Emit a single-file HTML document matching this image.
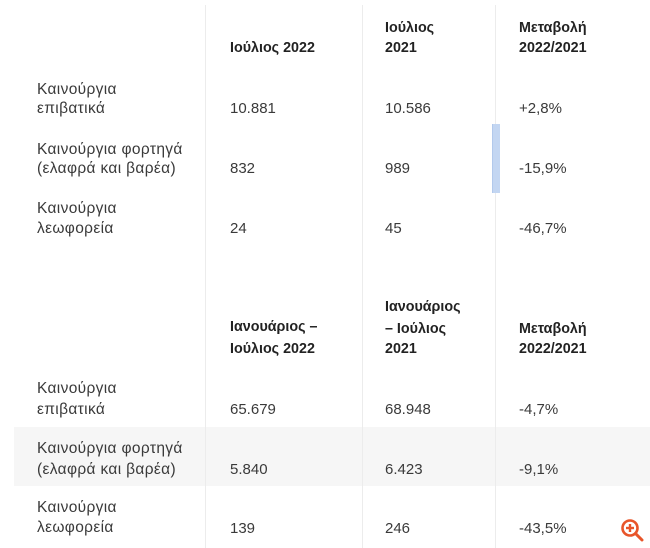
<!DOCTYPE html>
<html><head><meta charset="utf-8"><style>
html,body{margin:0;padding:0;background:#fff;}
#c{position:relative;width:650px;height:548px;overflow:hidden;background:#fff;font-family:"Liberation Sans","DejaVu Sans",sans-serif;}
.t{position:absolute;white-space:nowrap;line-height:20px;height:20px;font-size:15px;color:#3a3a3a;}
.l{font-size:15.5px;letter-spacing:0.35px;}
.b{font-weight:bold;color:#222;font-size:14.3px;}
.v{position:absolute;width:1px;background:#ececec;top:5px;bottom:0;}
</style></head><body><div id="c">
<div style="position:absolute;left:14px;top:427px;width:636px;height:59px;background:#f6f6f6;"></div>
<div class="v" style="left:205px"></div>
<div class="v" style="left:362px"></div>
<div class="v" style="left:495px"></div>
<div style="position:absolute;left:492px;top:124px;width:8px;height:69px;background:#c3d6f2;border-left:1px solid #b2c9ec;box-sizing:border-box;"></div>

<!-- top headers -->
<div class="t b" style="left:230px;top:38px">Ιούλιος 2022</div>
<div class="t b" style="left:385px;top:18px">Ιούλιος</div>
<div class="t b" style="left:385px;top:38px">2021</div>
<div class="t b" style="left:519px;top:18px">Μεταβολή</div>
<div class="t b" style="left:519px;top:38px">2022/2021</div>

<div class="t l" style="left:37px;top:80px">Καινούργια</div>
<div class="t l" style="left:37px;top:99px">επιβατικά</div>
<div class="t" style="left:230px;top:99px">10.881</div>
<div class="t" style="left:385px;top:99px">10.586</div>
<div class="t" style="left:519px;top:99px">+2,8%</div>

<div class="t l" style="left:37px;top:140px">Καινούργια φορτηγά</div>
<div class="t l" style="left:37px;top:159px">(ελαφρά και βαρέα)</div>
<div class="t" style="left:230px;top:159px">832</div>
<div class="t" style="left:385px;top:159px">989</div>
<div class="t" style="left:519px;top:159px">-15,9%</div>

<div class="t l" style="left:37px;top:199px">Καινούργια</div>
<div class="t l" style="left:37px;top:219px">λεωφορεία</div>
<div class="t" style="left:230px;top:219px">24</div>
<div class="t" style="left:385px;top:219px">45</div>
<div class="t" style="left:519px;top:219px">-46,7%</div>

<!-- bottom headers -->
<div class="t b" style="left:230px;top:317px">Ιανουάριος –</div>
<div class="t b" style="left:230px;top:339px">Ιούλιος 2022</div>
<div class="t b" style="left:385px;top:297px">Ιανουάριος</div>
<div class="t b" style="left:385px;top:319px">– Ιούλιος</div>
<div class="t b" style="left:385px;top:339px">2021</div>
<div class="t b" style="left:519px;top:319px">Μεταβολή</div>
<div class="t b" style="left:519px;top:339px">2022/2021</div>

<div class="t l" style="left:37px;top:379px">Καινούργια</div>
<div class="t l" style="left:37px;top:400px">επιβατικά</div>
<div class="t" style="left:230px;top:400px">65.679</div>
<div class="t" style="left:385px;top:400px">68.948</div>
<div class="t" style="left:519px;top:400px">-4,7%</div>

<div class="t l" style="left:37px;top:439px">Καινούργια φορτηγά</div>
<div class="t l" style="left:37px;top:460px">(ελαφρά και βαρέα)</div>
<div class="t" style="left:230px;top:460px">5.840</div>
<div class="t" style="left:385px;top:460px">6.423</div>
<div class="t" style="left:519px;top:460px">-9,1%</div>

<div class="t l" style="left:37px;top:498px">Καινούργια</div>
<div class="t l" style="left:37px;top:518px">λεωφορεία</div>
<div class="t" style="left:230px;top:519px">139</div>
<div class="t" style="left:385px;top:519px">246</div>
<div class="t" style="left:519px;top:519px">-43,5%</div>

<svg style="position:absolute;left:0;top:0" width="650" height="548">
<circle cx="630" cy="528" r="7.5" fill="none" stroke="#e8552a" stroke-width="2.6"/>
<line x1="635.5" y1="533.5" x2="642" y2="540" stroke="#e8552a" stroke-width="3" stroke-linecap="round"/>
<line x1="626" y1="528" x2="634" y2="528" stroke="#e8552a" stroke-width="2.4"/>
<line x1="630" y1="524" x2="630" y2="532" stroke="#e8552a" stroke-width="2.4"/>
</svg>
</div></body></html>
